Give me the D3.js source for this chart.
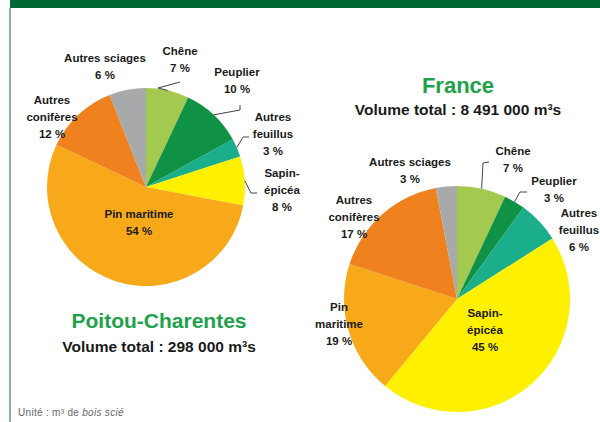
<!DOCTYPE html>
<html>
<head>
<meta charset="utf-8">
<script src="https://cdn.jsdelivr.net/npm/d3@7"></script>
<style>
  html, body { margin: 0; padding: 0; background: #ffffff; }
  svg { display: block; }
  text { font-family: "Liberation Sans", Arial, sans-serif; }
</style>
</head>
<body>
<svg id="chart" width="600" height="422"></svg>
<script>
// ---- DATA ----
const categories = ["Chêne", "Peuplier", "Autres feuillus", "Sapin-épicéa", "Pin maritime", "Autres conifères", "Autres sciages"];
const poitouValues = [7, 10, 3, 8, 54, 12, 6];
const franceValues = [7, 3, 6, 45, 19, 17, 3];
const poitouTitle = "Poitou-Charentes";
const poitouTotal = "Volume total : 298 000 m³s";
const franceTitle = "France";
const franceTotal = "Volume total : 8 491 000 m³s";

// ---- STYLES / LAYOUT ----
const colors = ["#a4c94f", "#0f9245", "#1aae8b", "#fff000", "#f8a91a", "#f0811f", "#a8a9ab"];
const green = "#22a14b";

// label layout (line breaks and offsets relative to pie centre), not data
const poitouLabelLines = [["Chêne"], ["Peuplier"], ["Autres", "feuillus"], ["Sapin-", "épicéa"], ["Pin maritime"], ["Autres", "conifères"], ["Autres sciages"]];
const poitouLabelPos = [[34, -127.5], [91, -106.5], [127, -53], [136, 3], [-7, 35], [-94, -70], [-41, -121]];
const poitouLeaders = [[[12, -99], [34, -105]], [[94, -77], [94, -82]], [[97, -50], [103, -50]], [[105, 6], [111, 6]], null, null, null];

const franceLabelLines = [["Chêne"], ["Peuplier"], ["Autres", "feuillus"], ["Sapin-", "épicéa"], ["Pin", "maritime"], ["Autres", "conifères"], ["Autres sciages"]];
const franceLabelPos = [[56, -139.5], [97, -110], [122, -69], [28, 31], [-118, 25], [-103, -82], [-47, -129]];
const franceLeaders = [[[26, -136], [32, -137]], [[63, -107], [70, -107]], null, null, null, null, null];

const svg = d3.select("#chart");

// frame
svg.append("rect").attr("x", 10).attr("y", 0).attr("width", 590).attr("height", 8).attr("fill", "#006633");
svg.append("line").attr("x1", 10).attr("x2", 10).attr("y1", 8).attr("y2", 422)
  .attr("stroke", "#5c9f78").attr("stroke-width", 1.5);

const pie = d3.pie().sort(null).value(d => d);

function drawPie(cx, cy, r, values, labelLines, labelPos, leaders) {
  const g = svg.append("g").attr("transform", `translate(${cx},${cy})`);
  const arc = d3.arc().innerRadius(0).outerRadius(r);
  const arcs = pie(values);
  g.selectAll("path.slice").data(arcs).enter().append("path")
    .attr("class", "slice")
    .attr("d", arc)
    .attr("fill", (d, i) => colors[i]);

  // leader lines
  arcs.forEach((d, i) => {
    const L = leaders[i];
    if (!L) return;
    const a = (d.startAngle + d.endAngle) / 2;
    const p0 = [Math.sin(a) * r, -Math.cos(a) * r];
    const pts = [p0].concat(L);
    g.append("path")
      .attr("d", d3.line()(pts))
      .attr("fill", "none")
      .attr("stroke", "#444")
      .attr("stroke-width", 1);
  });

  // labels
  arcs.forEach((d, i) => {
    const lines = labelLines[i].concat([d.data + " %"]);
    const [lx, ly] = labelPos[i];
    const n = lines.length;
    const t = g.append("text")
      .attr("text-anchor", "middle")
      .attr("font-size", "11.5px")
      .attr("font-weight", "bold")
      .attr("fill", "#1a1a1a");
    lines.forEach((ln, k) => {
      t.append("tspan")
        .attr("x", lx)
        .attr("y", ly + (k - (n - 1) / 2) * 17 + 4)
        .text(ln);
    });
  });
}

drawPie(146, 187, 99, poitouValues, poitouLabelLines, poitouLabelPos, poitouLeaders);
drawPie(457, 299, 113, franceValues, franceLabelLines, franceLabelPos, franceLeaders);

// titles
svg.append("text").attr("x", 159).attr("y", 328).attr("text-anchor", "middle")
  .attr("font-size", "21px").attr("font-weight", "bold").attr("fill", green).text(poitouTitle);
svg.append("text").attr("x", 159).attr("y", 352).attr("text-anchor", "middle")
  .attr("font-size", "15.5px").attr("font-weight", "bold").attr("fill", "#1a1a1a").text(poitouTotal);

svg.append("text").attr("x", 458).attr("y", 93).attr("text-anchor", "middle")
  .attr("font-size", "22px").attr("font-weight", "bold").attr("fill", green).text(franceTitle);
svg.append("text").attr("x", 458).attr("y", 115).attr("text-anchor", "middle")
  .attr("font-size", "15.5px").attr("font-weight", "bold").attr("fill", "#1a1a1a").text(franceTotal);

// footnote
const foot = svg.append("text").attr("x", 18).attr("y", 416)
  .attr("font-size", "10px").attr("fill", "#666").attr("letter-spacing", "0.3px");
foot.append("tspan").text("Unité : m³ de ");
foot.append("tspan").attr("font-style", "italic").text("bois scié");
</script>
</body>
</html>
